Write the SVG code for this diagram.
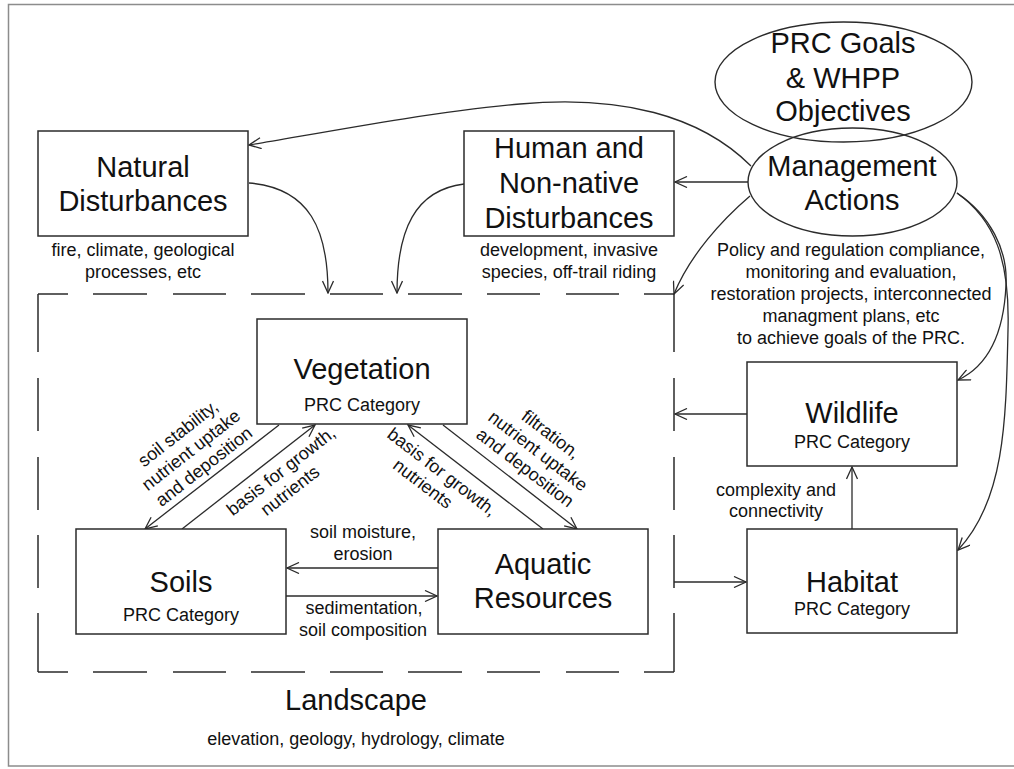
<svg xmlns="http://www.w3.org/2000/svg" width="1014" height="769" viewBox="0 0 1014 769">
<style>
.ln{fill:none;stroke:#2b2b2b;stroke-width:1.3}
.arr{marker-end:url(#ah)}
.box{fill:#fff;stroke:#2b2b2b;stroke-width:1.5}
.ell{fill:none;stroke:#2b2b2b;stroke-width:1.4}
.dash{fill:none;stroke:#2b2b2b;stroke-width:1.5}
text{font-family:"Liberation Sans",Arial,sans-serif;fill:#111;text-anchor:middle}
.big{font-size:29px}
.sm{font-size:18px}
</style>
<defs>
<marker id="ah" viewBox="0 0 14 12" refX="13" refY="6" markerWidth="14" markerHeight="12" markerUnits="userSpaceOnUse" orient="auto">
<path d="M1,0.5 L13,6 L1,11.5" fill="none" stroke="#2b2b2b" stroke-width="1.3"/>
</marker>
</defs>
<rect width="1014" height="769" fill="#fff"/>
<rect x="8.5" y="4.5" width="1010" height="761.5" fill="none" stroke="#8c8c8c" stroke-width="1.5"/>

<g id="connectors">
<path class="ln arr" d="M748,182 L675,182"/>
<path class="ln arr" d="M751,166 C700,115 620,95 520,104 S300,137 249,145"/>
<path class="ln arr" d="M750,196 C722,220 690,255 674,294"/>
<path class="ln arr" d="M957,193 C990,215 1008,250 1006,285 C1004,330 990,365 958,380"/>
<path class="ln arr" d="M957,193 C995,220 1010,260 1008,330 C1006,420 1005,500 958,550"/>
<path class="ln arr" d="M249,183 C310,188 328,230 328,293"/>
<path class="ln arr" d="M464,184 C415,190 397,230 397,293"/>
<path class="ln arr" d="M279,425 L145,529"/>
<path class="ln arr" d="M182,529 L315,425"/>
<path class="ln arr" d="M543,529 L408,425"/>
<path class="ln arr" d="M443,425 L577,529"/>
<path class="ln arr" d="M438,568 L287,568"/>
<path class="ln arr" d="M286,596 L437,596"/>
<path class="ln arr" d="M747,414 L675,414"/>
<path class="ln arr" d="M674,582 L746,582"/>
<path class="ln arr" d="M852,529 L852,467"/>

<g class="sm">
<g transform="translate(191,450) rotate(-38)">
<text class="sm" x="0" y="-15">soil stability,</text>
<text class="sm" x="0" y="6">nutrient uptake</text>
<text class="sm" x="0" y="27">and deposition</text>
</g>
<g transform="translate(281,471) rotate(-38)">
<text class="sm" x="0" y="6">basis for growth,</text>
<text class="sm" x="-5" y="27">nutrients</text>
</g>
<g transform="translate(538,451) rotate(37.5)">
<text class="sm" x="0" y="-15">filtration,</text>
<text class="sm" x="0" y="6">nutrient uptake</text>
<text class="sm" x="0" y="27">and deposition</text>
</g>
<g transform="translate(442,472) rotate(37.5)">
<text class="sm" x="0" y="6">basis for growth,</text>
<text class="sm" x="-8" y="27">nutrients</text>
</g>
<text class="sm" x="363" y="538">soil moisture,</text>
<text class="sm" x="363" y="560">erosion</text>
<text class="sm" x="364" y="614">sedimentation,</text>
<text class="sm" x="363" y="636">soil composition</text>
<text class="sm" x="776" y="496">complexity and</text>
<text class="sm" x="776" y="517">connectivity</text>
</g>
</g>

<g id="landscape">
<path class="dash" d="M38,294 H68 M93,294 H147 M173,294 H226 M251,294 H305 M330,294 H383 M408,294 H462 M487,294 H540 M566,294 H619 M644,294 H674
M38,672 H68 M93,672 H147 M173,672 H226 M251,672 H305 M330,672 H383 M408,672 H462 M487,672 H540 M566,672 H619 M644,672 H674
M674,294 V352 M674,378 V431 M674,457 V510 M674,535 V588 M674,613 V672
M38,294 V352 M38,378 V431 M38,457 V510 M38,535 V588 M38,613 V672"/>
<text class="big" x="356" y="710">Landscape</text>
<text class="sm" x="356" y="745">elevation, geology, hydrology, climate</text>
</g>

<g id="natural">
<rect class="box" x="38" y="131" width="210" height="105"/>
<text class="big" x="143" y="177">Natural</text>
<text class="big" x="143" y="211">Disturbances</text>
<text class="sm" x="143" y="256">fire, climate, geological</text>
<text class="sm" x="143" y="278">processes, etc</text>
</g>

<g id="human">
<rect class="box" x="464" y="131" width="210" height="105"/>
<text class="big" x="569" y="158">Human and</text>
<text class="big" x="569" y="193">Non-native</text>
<text class="big" x="569" y="228">Disturbances</text>
<text class="sm" x="569" y="256">development, invasive</text>
<text class="sm" x="569" y="278">species, off-trail riding</text>
</g>

<g id="goals">
<ellipse class="ell" cx="843.5" cy="82" rx="128.5" ry="60"/>
<text class="big" x="843" y="53">PRC Goals</text>
<text class="big" x="843" y="88">&amp; WHPP</text>
<text class="big" x="843" y="121">Objectives</text>
</g>

<g id="management">
<ellipse class="ell" cx="852.5" cy="182" rx="104.5" ry="54"/>
<text class="big" x="852" y="176">Management</text>
<text class="big" x="852" y="210">Actions</text>
<text class="sm" x="851" y="256">Policy and regulation compliance,</text>
<text class="sm" x="851" y="278">monitoring and evaluation,</text>
<text class="sm" x="851" y="300">restoration projects, interconnected</text>
<text class="sm" x="851" y="322">managment plans, etc</text>
<text class="sm" x="851" y="344">to achieve goals of the PRC.</text>
</g>

<g id="vegetation">
<rect class="box" x="257" y="319" width="210" height="105"/>
<text class="big" x="362" y="379">Vegetation</text>
<text class="sm" x="362" y="411">PRC Category</text>
</g>

<g id="soils">
<rect class="box" x="76" y="529" width="210" height="105"/>
<text class="big" x="181" y="592">Soils</text>
<text class="sm" x="181" y="621">PRC Category</text>
</g>

<g id="aquatic">
<rect class="box" x="438" y="529" width="210" height="105"/>
<text class="big" x="543" y="574">Aquatic</text>
<text class="big" x="543" y="608">Resources</text>
</g>

<g id="wildlife">
<rect class="box" x="747" y="362" width="210" height="104"/>
<text class="big" x="852" y="423">Wildlife</text>
<text class="sm" x="852" y="448">PRC Category</text>
</g>

<g id="habitat">
<rect class="box" x="747" y="529" width="210" height="104"/>
<text class="big" x="852" y="592">Habitat</text>
<text class="sm" x="852" y="615">PRC Category</text>
</g>
</svg>
